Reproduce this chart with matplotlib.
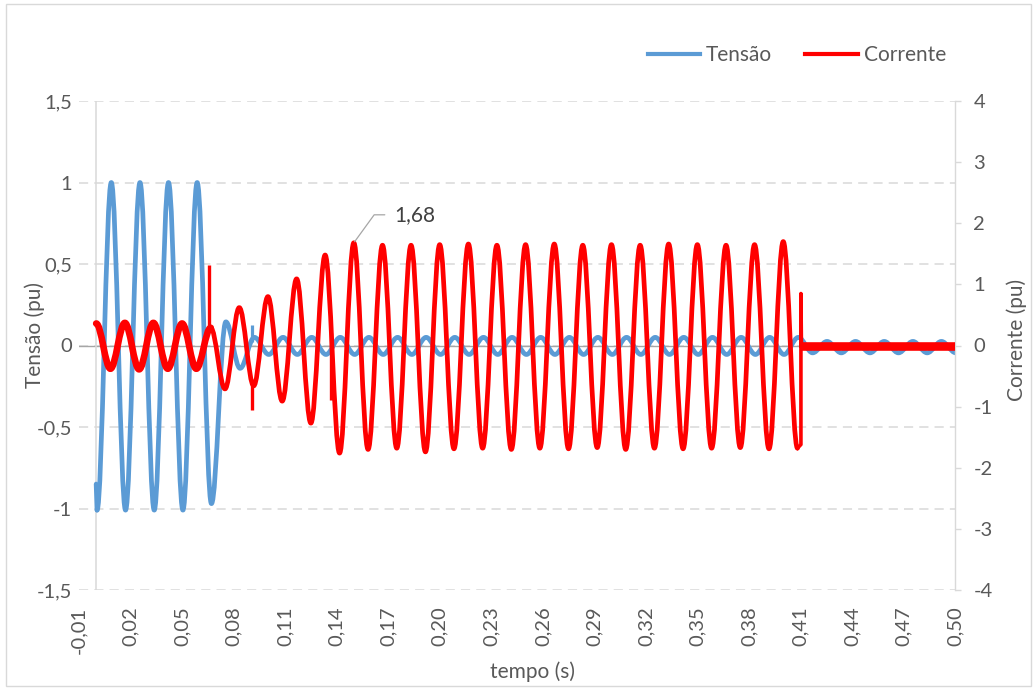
import matplotlib
matplotlib.use('Agg')
import matplotlib.pyplot as plt
from matplotlib.path import Path
from matplotlib.patches import PathPatch, Rectangle
from matplotlib.lines import Line2D
from matplotlib.ticker import FuncFormatter

plt.rcParams['font.family'] = ['Lato', 'DejaVu Sans']

# current (pu, right axis): one peak / trough per half cycle
red_t = [0.0000, 0.0083, 0.0167, 0.0250, 0.0333, 0.0417, 0.0500, 0.0583, 0.0667, 0.0750,
         0.0833, 0.0917, 0.1000, 0.1083, 0.1167, 0.1250, 0.1333, 0.1417, 0.1500, 0.1583,
         0.1667, 0.1750, 0.1833, 0.1917, 0.2000, 0.2083, 0.2167, 0.2250, 0.2333, 0.2417,
         0.2500, 0.2583, 0.2667, 0.2750, 0.2833, 0.2917, 0.3000, 0.3083, 0.3167, 0.3250,
         0.3333, 0.3417, 0.3500, 0.3583, 0.3667, 0.3750, 0.3833, 0.3917, 0.4000, 0.4083]
red_v = [0.36, -0.38, 0.37, -0.39, 0.37, -0.38, 0.36, -0.38, 0.29, -0.71,
         0.62, -0.66, 0.80, -0.91, 1.09, -1.27, 1.48, -1.76, 1.68, -1.70,
         1.64, -1.68, 1.64, -1.74, 1.65, -1.69, 1.66, -1.68, 1.64, -1.70,
         1.65, -1.68, 1.66, -1.69, 1.64, -1.67, 1.65, -1.70, 1.64, -1.68,
         1.66, -1.69, 1.65, -1.68, 1.64, -1.67, 1.65, -1.69, 1.70, -1.68]
red_noisy = 9          # first cycles are noisy -> drawn thicker
red_label = 18         # annotated peak

red_spike_t = [0.0657, 0.0907, 0.1370]
red_spike_a = [0.25, -0.56, 0.20]
red_spike_b = [1.31, -1.06, -0.89]

# breaker opening
red_tail_t = [0.4083, 0.4103, 0.4103, 0.4106]
red_tail_v = [-1.68, -1.62, 0.85, 0.0]
red_flat_t = [0.4106, 0.5000]
red_flat_v = [0.0, 0.0]

# voltage (pu, left axis)
blue_start_t = [0.0, 0.0005]
blue_start_v = [-0.85, -1.01]
blue_t = [0.0005, 0.0088, 0.0171, 0.0255, 0.0338, 0.0421, 0.0505, 0.0588, 0.0671, 0.0755,
          0.0838, 0.0921, 0.1005, 0.1088, 0.1171, 0.1255, 0.1338, 0.1421, 0.1505, 0.1588,
          0.1671, 0.1755, 0.1838, 0.1921, 0.2005, 0.2088, 0.2171, 0.2255, 0.2338, 0.2421,
          0.2505, 0.2588, 0.2671, 0.2755, 0.2838, 0.2921, 0.3005, 0.3088, 0.3171, 0.3255,
          0.3338, 0.3421, 0.3505, 0.3588, 0.3671, 0.3755, 0.3838, 0.3921, 0.4005, 0.4088,
          0.4171, 0.4255, 0.4338, 0.4421, 0.4505, 0.4588, 0.4671, 0.4755, 0.4838, 0.4921,
          0.5005]
blue_v = [-1.01, 1.00, -1.01, 1.00, -1.01, 1.00, -1.01, 1.00, -0.97, 0.145,
          -0.14, 0.05, -0.055, 0.05, -0.055, 0.05, -0.055, 0.05, -0.055, 0.05,
          -0.055, 0.05, -0.055, 0.05, -0.055, 0.05, -0.055, 0.05, -0.055, 0.05,
          -0.055, 0.05, -0.055, 0.05, -0.055, 0.05, -0.055, 0.05, -0.055, 0.05,
          -0.055, 0.05, -0.055, 0.05, -0.055, 0.05, -0.055, 0.05, -0.055, 0.05,
          -0.045, 0.025, -0.045, 0.025, -0.045, 0.025, -0.045, 0.025, -0.045, 0.025,
          -0.045]
blue_spike_t = [0.0906]
blue_spike_a = [0.02]
blue_spike_b = [0.125]

x_ticks = [-0.01, 0.02, 0.05, 0.08, 0.11, 0.14, 0.17, 0.20, 0.23,
           0.26, 0.29, 0.32, 0.35, 0.38, 0.41, 0.44, 0.47, 0.50]
y1_ticks = [-1.5, -1, -0.5, 0, 0.5, 1, 1.5]
y2_ticks = [-4, -3, -2, -1, 0, 1, 2, 3, 4]

BLUE = '#5b9bd5'
RED = '#ff0000'
GREY = '#595959'
LIGHT = '#d9d9d9'


def wave(t, v):
    # smooth curve through the extrema, flat tangent at each one
    verts = [(t[0], v[0])]
    codes = [Path.MOVETO]
    for i in range(1, len(t)):
        d = (t[i] - t[i - 1]) * 0.3634
        verts += [(t[i - 1] + d, v[i - 1]), (t[i] - d, v[i]), (t[i], v[i])]
        codes += [Path.CURVE4] * 3
    return Path(verts, codes)


def comma(fmt):
    return FuncFormatter(lambda x, pos: format(x, fmt).replace('.', ','))


fig = plt.figure(figsize=(10.35, 6.89), dpi=100)
ax = fig.add_axes([79 / 1035, 1 - 590 / 689, 876 / 1035, 489 / 689])
ax2 = ax.twinx()

# voltage
ax.add_patch(PathPatch(wave(blue_t, blue_v), fill=False, ec=BLUE, lw=3.4,
                       joinstyle='round', capstyle='round', zorder=3))
ax.plot(blue_start_t, blue_start_v, color=BLUE, lw=3.4, solid_capstyle='round', zorder=3)
ax.vlines(blue_spike_t, blue_spike_a, blue_spike_b, color=BLUE, lw=2.3, zorder=3)

# current
ax2.add_patch(PathPatch(wave(red_t, red_v), fill=False, ec=RED, lw=3.4,
                        joinstyle='round', capstyle='round', zorder=3))
ax2.add_patch(PathPatch(wave(red_t[:red_noisy], red_v[:red_noisy]), fill=False, ec=RED,
                        lw=4.8, joinstyle='round', capstyle='round', zorder=3))
ax2.vlines(red_spike_t, red_spike_a, red_spike_b, color=RED, lw=2.4, zorder=3)
ax2.plot(red_tail_t, red_tail_v, color=RED, lw=2.6, zorder=3)
ax2.plot(red_flat_t, red_flat_v, color=RED, lw=6.2, solid_capstyle='butt', zorder=3)

ax2.annotate(format(red_v[red_label], '.2f').replace('.', ','),
             xy=(red_t[red_label], red_v[red_label]), xytext=(40, 28),
             textcoords='offset pixels', ha='left', va='center', fontsize=15, color='#404040',
             arrowprops=dict(arrowstyle='-', color='#a6a6a6', lw=0.9, shrinkA=4.5, shrinkB=1,
                             connectionstyle='angle,angleA=0,angleB=54,rad=0'))

# axes look
ax.set_xlim(-0.01, 0.50)
ax.set_ylim(-1.5, 1.5)
ax2.set_ylim(-4, 4)
ax.set_xticks(x_ticks)
ax.set_yticks(y1_ticks)
ax2.set_yticks(y2_ticks)
ax.xaxis.set_major_formatter(comma('.2f'))
ax.yaxis.set_major_formatter(comma('g'))
ax2.yaxis.set_major_formatter(comma('g'))

for s in ax.spines.values():
    s.set_visible(False)
for k, s in ax2.spines.items():
    s.set_visible(k == 'right')
ax2.spines['right'].set_color(LIGHT)
ax2.spines['right'].set_linewidth(1.0)

ax.tick_params(axis='x', length=0, pad=12, labelsize=14.5, labelcolor=GREY, labelrotation=90)
ax.tick_params(axis='y', length=0, pad=5, labelsize=14.5, labelcolor=GREY)
ax2.tick_params(axis='y', length=4.3, width=1, color=LIGHT, pad=9, labelsize=14.5,
                labelcolor=GREY)

ax.set_axisbelow(True)
ax.grid(axis='y', color=LIGHT, lw=1.1, linestyle=(0, (6, 4)))
ax.axhline(0, color='#a6a6a6', lw=1.0, zorder=2)
ax.axvline(0, color=LIGHT, lw=1.1, zorder=2)

fig.text(532 / 1035, 1 - 672 / 689, 'tempo (s)', ha='center', va='center', fontsize=15, color=GREY)
fig.text(35 / 1035, 1 - 335 / 689, 'Tensão (pu)', ha='center', va='center', rotation=90,
         fontsize=15, color=GREY)
fig.text(1017 / 1035, 1 - 340 / 689, 'Corrente (pu)', ha='center', va='center', rotation=90,
         fontsize=15, color=GREY)

handles = [Line2D([], [], color=BLUE, lw=3), Line2D([], [], color=RED, lw=3)]
fig.legend(handles, ['Tensão', 'Corrente'], loc='center right',
           bbox_to_anchor=(946 / 1035, 1 - 55 / 689), ncol=2, frameon=False, fontsize=15,
           handlelength=2.5, handletextpad=0.3, columnspacing=1.6, labelcolor=GREY,
           borderaxespad=0, borderpad=0)

fig.patches.append(Rectangle((0.006, 0.004), 0.99, 0.99, transform=fig.transFigure,
                             fill=False, ec=LIGHT, lw=1))

fig.savefig('out.png', dpi=100)
